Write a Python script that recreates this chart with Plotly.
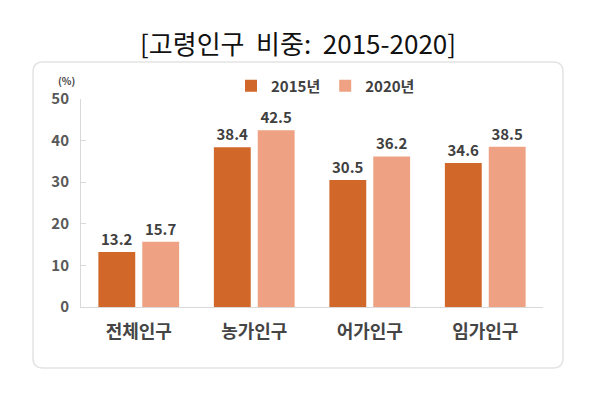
import plotly.graph_objects as go

categories = ["전체인구", "농가인구", "어가인구", "임가인구"]
series_names = ["2015년", "2020년"]
values_2015 = [13.2, 38.4, 30.5, 34.6]
values_2020 = [15.7, 42.5, 36.2, 38.5]
y_ticks = [0, 10, 20, 30, 40, 50]
title_text = "[고령인구&nbsp;&nbsp;비중:&nbsp;&nbsp;2015-2020]"

# page has an 8px body margin; compensate
OFF = 8
W, H = 600 - OFF, 404 - OFF
PL, PR, PT, PB = 81, 543, 99, 307          # plot area in reference pixels
L, T = PL - OFF, PT - OFF
pw, ph = PR - PL, PB - PT
R, B = W - L - pw, H - T - ph

def px(x):
    return (x - PL) / pw

def py(y):
    return (PB - y) / ph

font_fam = "Noto Sans CJK KR, Noto Sans, sans-serif"
colors = ["#d2672a", "#eea283"]

fig = go.Figure()
for name, vals, c in zip(series_names, [values_2015, values_2020], colors):
    fig.add_trace(go.Bar(
        x=categories, y=vals, name=name,
        marker=dict(color=c, line=dict(width=0)),
        text=[f"{v:.1f}" for v in vals], textposition="outside",
        textfont=dict(size=15, color="#404040", family=font_fam, weight="bold"),
        cliponaxis=False,
    ))

# rounded panel
x0, x1, y0, y1, r = 33, 563, 62, 368, 10
path = (f"M {px(x0+r)},{py(y0)} L {px(x1-r)},{py(y0)} "
        f"Q {px(x1)},{py(y0)} {px(x1)},{py(y0+r)} "
        f"L {px(x1)},{py(y1-r)} Q {px(x1)},{py(y1)} {px(x1-r)},{py(y1)} "
        f"L {px(x0+r)},{py(y1)} Q {px(x0)},{py(y1)} {px(x0)},{py(y1-r)} "
        f"L {px(x0)},{py(y0+r)} Q {px(x0)},{py(y0)} {px(x0+r)},{py(y0)} Z")
shapes = [dict(type="path", path=path, xref="paper", yref="paper",
               line=dict(color="#e4e4e4", width=1.5), fillcolor="rgba(0,0,0,0)", layer="below")]

fig.update_layout(
    width=W, height=H,
    margin=dict(l=L, r=R, t=T, b=B, autoexpand=False),
    paper_bgcolor="white", plot_bgcolor="white",
    barmode="group", bargap=0.24, bargroupgap=0.16,
    showlegend=True,
    legend=dict(orientation="h", x=px(231), y=py(86), xanchor="left", yanchor="middle",
                font=dict(size=15, color="#404040", family=font_fam, weight="bold"),
                itemwidth=30, traceorder="normal",
                bgcolor="rgba(0,0,0,0)"),
    shapes=shapes,
    annotations=[
        dict(text=title_text, xref="paper", yref="paper", x=px(298), y=py(42),
             xanchor="center", yanchor="middle", showarrow=False,
             font=dict(size=26, color="#111111", family=font_fam)),
        dict(text="(%)", xref="paper", yref="paper", x=px(66), y=py(80),
             xanchor="center", yanchor="middle", showarrow=False,
             font=dict(size=10, color="#404040", family=font_fam, weight="bold")),
    ],
    xaxis=dict(showgrid=False, showline=True, linecolor="#d9d9d9", linewidth=1,
               ticks="", tickfont=dict(size=18, color="#454545", family=font_fam, weight="bold"),
               ticklabelstandoff=8),
    yaxis=dict(range=[0, 50], tickvals=y_ticks, showgrid=False, zeroline=False,
               showline=True, linecolor="#d9d9d9", linewidth=1,
               ticks="inside", ticklen=5, tickcolor="#d9d9d9",
               tickfont=dict(size=15, color="#595959", family=font_fam, weight="bold"),
               ticklabelstandoff=8),
)

fig.write_html("out.html")
